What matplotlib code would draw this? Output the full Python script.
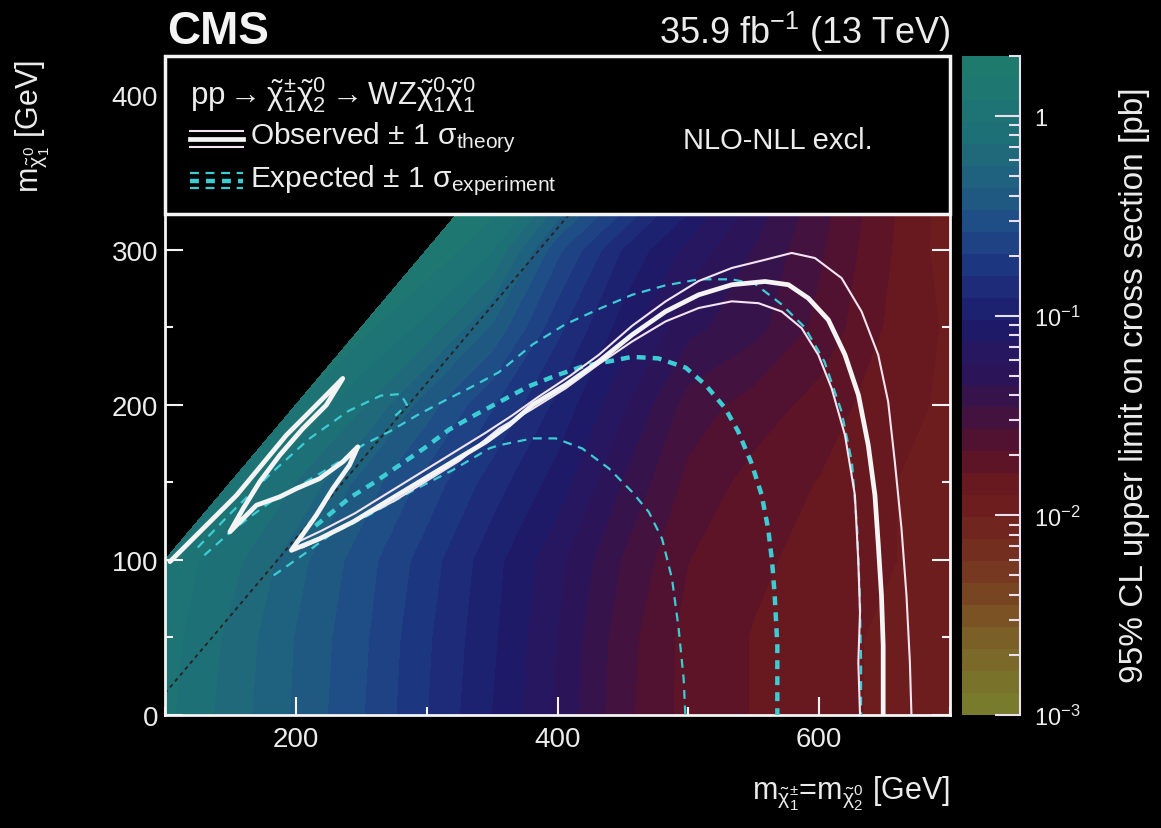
import numpy as np
import matplotlib
matplotlib.use('Agg')
import matplotlib.pyplot as plt
from matplotlib.colors import LinearSegmentedColormap, LogNorm, Normalize
from matplotlib.cm import ScalarMappable
from matplotlib.patches import Rectangle
from matplotlib.ticker import MultipleLocator, FixedLocator, FixedFormatter

plt.rcParams['font.family'] = ['Liberation Sans', 'DejaVu Sans']
plt.rcParams['mathtext.fontset'] = 'custom'
plt.rcParams['mathtext.rm'] = 'Liberation Sans'
plt.rcParams['mathtext.it'] = 'Liberation Sans:italic'
plt.rcParams['mathtext.bf'] = 'Liberation Sans:bold'

# scan grid (GeV) and 95% CL upper limit on cross section (pb), nan above the diagonal
m_chargino = [100, 150, 200, 250, 300, 350, 400, 450, 500, 550, 600, 650, 700]
m_lsp = [0, 50, 100, 150, 200, 250, 300, 350]
nan = np.nan
xsec_limit = [
    [1.0, 0.65, 0.42, 0.27, 0.16, 0.095, 0.055, 0.029, 0.019, 0.016, 0.014, 0.012, 0.011],
    [1.05, 0.68, 0.43, 0.28, 0.165, 0.10, 0.057, 0.030, 0.019, 0.016, 0.014, 0.012, 0.011],
    [1.1, 0.80, 0.48, 0.30, 0.18, 0.105, 0.062, 0.034, 0.021, 0.017, 0.015, 0.013, 0.011],
    [nan, 1.1, 0.72, 0.40, 0.24, 0.14, 0.085, 0.044, 0.025, 0.019, 0.016, 0.013, 0.011],
    [nan, nan, 1.2, 0.75, 0.38, 0.21, 0.115, 0.060, 0.031, 0.024, 0.019, 0.014, 0.012],
    [nan, nan, nan, 1.3, 0.85, 0.42, 0.17, 0.085, 0.048, 0.038, 0.025, 0.016, 0.012],
    [nan, nan, nan, nan, 1.5, 0.95, 0.28, 0.12, 0.068, 0.044, 0.028, 0.017, 0.011],
    [nan, nan, nan, nan, nan, 1.7, 0.90, 0.35, 0.14, 0.065, 0.032, 0.018, 0.011],
]

# exclusion contours (x, y) in GeV
obs = [(103.8, 98.9), (154.7, 141.7), (192.8, 180.5), (218.2, 202), (235.9, 217.1),
       (223.3, 199.9), (205.4, 184.8), (187.7, 167.6), (172.4, 150.4), (159.7, 133.1), (149.6, 118.1),
       (169.9, 135.3), (187.7, 140.7), (200.4, 146), (218.2, 152.5), (235.9, 163.3), (247.4, 173),
       (241, 161.1), (228.3, 146), (215.6, 128.8), (202.9, 113.7), (196.6, 106.2),
       (218.2, 113.7), (243.6, 124.5), (269, 137.5), (294.4, 150.4), (319.8, 163.3), (345.3, 176.2),
       (363, 187), (380.8, 200), (406.2, 212.9), (431.6, 228), (457, 245.2), (482.5, 260.2),
       (507.9, 271), (533.2, 277.5), (558.6, 279.6), (576.5, 277.5), (591.7, 268.8), (607, 254.8),
       (619.7, 232.3), (630, 206.3), (637.5, 174), (642.6, 141.7), (645.2, 109.4), (647.6, 77.1),
       (648.9, 44.8), (648.9, 0)]
obs_up = [(200, 111), (220, 119), (245, 130), (270, 143), (295, 156), (320, 169), (345, 182),
          (365, 193), (385, 205), (410, 219), (431.6, 232.3), (457, 251), (482.5, 266.7),
          (507.9, 279.9), (533.2, 288.3), (558.6, 293.6), (579, 298), (596.8, 294.7), (617.1, 281.8),
          (632.4, 260.2), (645.1, 232.3), (652.7, 202.1), (657.8, 163.3), (662.9, 120.2),
          (666.7, 77.1), (669.3, 34.1), (670.5, 0)]
obs_down = [(205, 108), (225, 116), (250, 127), (275, 138), (300, 151), (325, 164), (355.4, 184.8),
            (380, 197), (406.2, 210.7), (431, 226), (457, 240.9), (482.5, 253.8), (507.9, 262.5),
            (533.2, 266.8), (553.6, 265.6), (571.4, 260.2), (586.6, 249.5), (599.3, 232.3),
            (609.5, 210.7), (619.7, 180.5), (627.3, 141.7), (629.9, 98.6), (631.2, 66.3),
            (629.9, 34), (631.2, 0)]
exp = [(215, 122), (228, 131), (241, 140), (260, 150), (279, 161), (298, 172), (317, 184),
       (338, 194), (358, 203), (378, 212), (399, 219), (420, 225), (439, 228), (457, 231),
       (477, 230), (498, 224), (513, 213), (528, 198), (538, 183), (548, 163), (556, 142),
       (561, 120), (564, 99), (566, 77), (568, 45), (568, 0)]
exp_up = [(130, 103), (150, 118), (167, 129), (185, 140), (203, 148), (221, 157), (236, 165),
          (251, 174), (272, 183), (292, 193), (312, 202), (333, 211), (355, 221), (381, 239),
          (406, 252), (432, 262), (457, 271), (482, 277), (508, 281), (533, 281), (551, 278),
          (571, 265), (589, 250), (604, 228), (617, 196), (625, 163), (629, 120), (631, 77),
          (632, 34), (632, 0)]
exp_up_tip = [(125, 108), (150, 130), (180, 155), (210, 178), (240, 196), (265, 206),
              (280, 207), (285, 200), (276, 193)]
exp_down = [(183, 90), (205, 103), (226, 116), (256, 129), (290, 145), (320, 158), (348, 172),
            (355.4, 174), (380.8, 178.4), (398.6, 178.4), (418.9, 171.9), (439.3, 159),
            (457, 143.9), (469.7, 131), (479.9, 113.7), (487.5, 87.9), (492.6, 55.6),
            (496.4, 23.3), (497.7, 0)]

white = '#f4f4f4'
pink = '#f3e4f0'
cyan = '#3cccd4'
text_col = '#ececec'

zmin, zmax = 1e-3, 2.0
cmap_values = [1e-3, 2e-3, 3e-3, 5e-3, 1e-2, 1.5e-2, 2e-2, 3e-2, 5e-2, 1e-1, 2e-1, 3e-1, 5e-1, 1.0, 2.0]
cmap_colors = ['#787a2c', '#7a6428', '#7a5024', '#763620', '#6e1e1e', '#661820', '#58122a',
               '#44123e', '#2c1458', '#1c1c6c', '#1d3882', '#1e4c86', '#1f6080', '#1e7276', '#1e7a6c']
span = np.log10(zmax) - np.log10(zmin)
cmap = LinearSegmentedColormap.from_list(
    'xsec', [((np.log10(v) - np.log10(zmin)) / span, c) for v, c in zip(cmap_values, cmap_colors)], N=30)

fig = plt.figure(figsize=(11.61, 8.29), dpi=100, facecolor='black')
ax = fig.add_axes([0.1421, 0.1363, 0.6762, 0.7949], facecolor='black')
cax = fig.add_axes([0.8286, 0.1363, 0.0500, 0.7949], facecolor='black')

X, Y = np.meshgrid(m_chargino, m_lsp)
Z = np.ma.masked_invalid(np.log10(np.array(xsec_limit)))
levels = np.linspace(np.log10(zmin), np.log10(zmax), 31)
ax.contourf(X, Y, Z, levels=levels, cmap=cmap, norm=Normalize(np.log10(zmin), np.log10(zmax)),
            corner_mask=True, zorder=1)

# m(chi1) = m(chi2) - m(Z) line
diag_x = np.array([100, 700])
ax.plot(diag_x, diag_x - 86, color='#262626', lw=1.4, ls=(0, (2, 2)), zorder=2)

def draw(pts, **kw):
    a = np.array(pts)
    ax.plot(a[:, 0], a[:, 1], zorder=3, solid_capstyle='round', **kw)

draw(exp_up, color=cyan, lw=1.6, ls=(0, (4, 3)))
draw(exp_up_tip, color=cyan, lw=1.6, ls=(0, (4, 3)))
draw(exp_down, color=cyan, lw=1.6, ls=(0, (4, 3)))
draw(exp, color=cyan, lw=3.2, ls=(0, (2, 1.6)))
draw(obs_up, color=pink, lw=1.5)
draw(obs_down, color=pink, lw=1.5)
draw(obs, color=white, lw=3.4)

ax.set_xlim(100, 700)
ax.set_ylim(0, 425)
ax.xaxis.set_major_locator(MultipleLocator(200))
ax.xaxis.set_minor_locator(MultipleLocator(100))
ax.yaxis.set_major_locator(MultipleLocator(100))
ax.yaxis.set_minor_locator(MultipleLocator(50))
ax.tick_params(which='both', direction='in', colors=white, labelcolor=text_col,
               top=False, right=True, width=1.5, labelsize=20)
ax.tick_params(which='major', length=13)
ax.tick_params(which='minor', length=6)
ax.tick_params(axis='x', pad=8)
ax.tick_params(axis='y', pad=5)
for s in ax.spines.values():
    s.set_color(white)
    s.set_linewidth(2)

# legend box
chi = r'\tilde{\mathrm{\chi}}'
ax.add_patch(Rectangle((0, 0.760), 1, 0.240, transform=ax.transAxes, facecolor='black',
                       edgecolor=white, lw=2.5, zorder=5, clip_on=False))
ax.text(0.032, 0.942,
        r'pp$\rightarrow' + chi + r'^{\pm}_{1}' + chi + r'^{0}_{2}\rightarrow$WZ$' + chi + r'^{0}_{1}' + chi + r'^{0}_{1}$',
        transform=ax.transAxes, color=text_col, fontsize=22.5, va='center', ha='left', zorder=6)
lx = [0.032, 0.099]
ax.plot(lx, [0.886, 0.886], transform=ax.transAxes, color=pink, lw=1.5, zorder=6)
ax.plot(lx, [0.874, 0.874], transform=ax.transAxes, color=white, lw=3.4, zorder=6)
ax.plot(lx, [0.862, 0.862], transform=ax.transAxes, color=pink, lw=1.5, zorder=6)
ax.plot(lx, [0.823, 0.823], transform=ax.transAxes, color=cyan, lw=1.6, ls=(0, (4, 3)), zorder=6)
ax.plot(lx, [0.811, 0.811], transform=ax.transAxes, color=cyan, lw=3.2, ls=(0, (2, 1.6)), zorder=6)
ax.plot(lx, [0.799, 0.799], transform=ax.transAxes, color=cyan, lw=1.6, ls=(0, (4, 3)), zorder=6)
ax.text(0.108, 0.877, r'Observed $\pm$ 1 $\mathrm{\sigma}_{\mathrm{theory}}$', transform=ax.transAxes,
        color=text_col, fontsize=21.5, va='center', ha='left', zorder=6)
ax.text(0.108, 0.813, r'Expected $\pm$ 1 $\mathrm{\sigma}_{\mathrm{experiment}}$', transform=ax.transAxes,
        color=text_col, fontsize=21.5, va='center', ha='left', zorder=6)
ax.text(0.781, 0.872, 'NLO-NLL excl.', transform=ax.transAxes, color=text_col, fontsize=21,
        va='center', ha='center', zorder=6)

# colour scale
sm = ScalarMappable(norm=LogNorm(zmin, zmax), cmap=cmap)
cb = fig.colorbar(sm, cax=cax)
cb.outline.set_visible(False)
cax.plot([1, 1], [0, 1], transform=cax.transAxes, color='#e8e0ee', lw=1.5, clip_on=False)
cb_ticks = [1e-3, 1e-2, 1e-1, 1]
cb_labels = [r'10$^{-3}$', r'10$^{-2}$', r'10$^{-1}$', '1']
cax.yaxis.set_major_locator(FixedLocator(cb_ticks))
cax.yaxis.set_major_formatter(FixedFormatter(cb_labels))
minor = [m * 10.0 ** e for e in range(-3, 1) for m in range(2, 10) if m * 10.0 ** e <= zmax]
cax.yaxis.set_minor_locator(FixedLocator(minor))
cax.tick_params(which='both', direction='in', colors='#e8e0ee', labelcolor=text_col,
                width=1.5, labelsize=17, right=True, left=False, pad=10)
cax.tick_params(which='major', length=18)
cax.tick_params(which='minor', length=8)
fig.text(0.977, 0.535, '95% CL upper limit on cross section [pb]', rotation=90, color=text_col,
         fontsize=24, ha='center', va='center')

# titles and axis labels
fig.text(0.144, 0.962, 'CMS', color=white, fontsize=33, fontweight='bold', ha='left', va='center')
fig.text(0.8183, 0.962, r'35.9 fb$^{-1}$ (13 TeV)', color=text_col, fontsize=26, ha='right', va='center')
fig.text(0.028, 0.928, r'$\mathrm{m}_{' + chi + r'^{0}_{1}}$ [GeV]', rotation=90, color=text_col,
         fontsize=22, ha='center', va='top')
fig.text(0.8183, 0.042, r'$\mathrm{m}_{' + chi + r'^{\pm}_{1}}$=$\mathrm{m}_{' + chi + r'^{0}_{2}}$ [GeV]',
         color=text_col, fontsize=22, ha='right', va='center')

fig.savefig('out.png', dpi=100, facecolor='black')
